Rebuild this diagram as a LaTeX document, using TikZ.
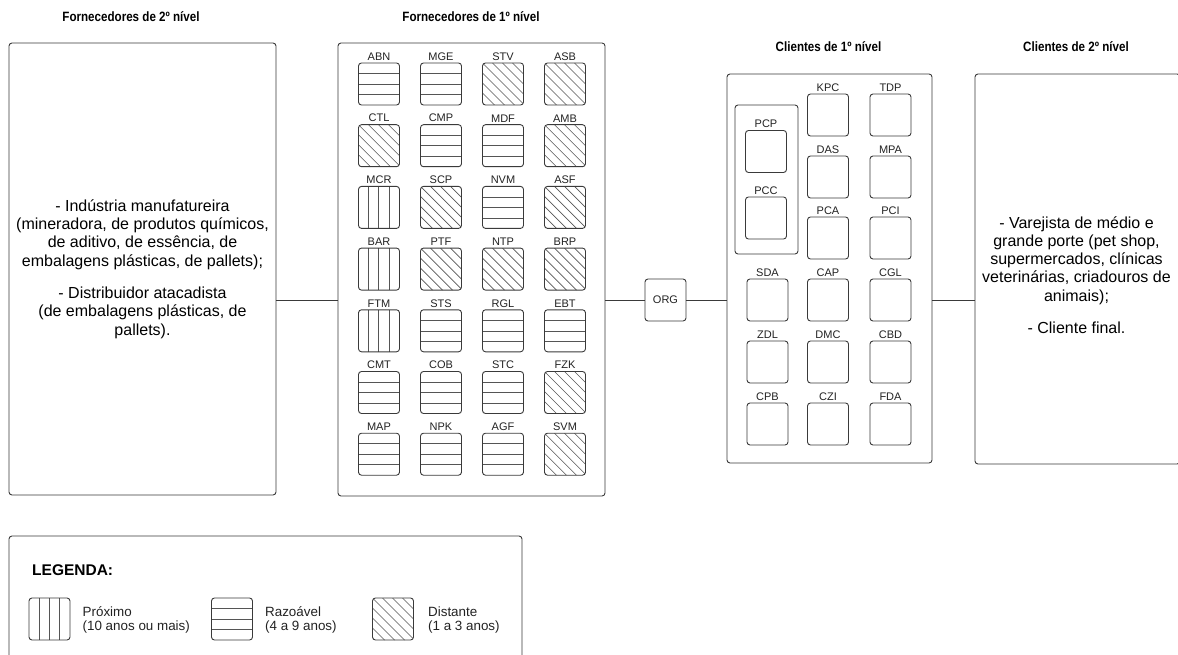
\documentclass[tikz,border=0pt]{standalone}
\usepackage{fontspec}
\setmainfont{Liberation Sans}
\usepackage{graphicx}
\usepackage{tikz}
\usetikzlibrary{positioning,calc}
\definecolor{linegray}{HTML}{3A3A3A}
\definecolor{hatchgray}{HTML}{555555}
\definecolor{textgray}{HTML}{222222}
\newcommand{\bodyfont}{\fontsize{16}{18.3}\selectfont}
\newcommand{\headtext}[1]{\scalebox{0.86}[1]{#1}}
\tikzset{
  frame/.style={draw=linegray, line width=0.9pt, rounded corners=3pt, inner sep=0pt},
  relbox/.style={frame, minimum width=41pt, minimum height=42pt},
  hatch/.style={draw=hatchgray, line width=0.6pt, sharp corners},
  prox/.style={relbox, path picture={
    \foreach \f in {0.24,0.49,0.75}
      \draw[hatch] ($(path picture bounding box.north west)!\f!(path picture bounding box.north east)$)
        -- ($(path picture bounding box.south west)!\f!(path picture bounding box.south east)$);}},
  razo/.style={relbox, path picture={
    \foreach \f in {0.25,0.5,0.75}
      \draw[hatch] ($(path picture bounding box.north west)!\f!(path picture bounding box.south west)$)
        -- ($(path picture bounding box.north east)!\f!(path picture bounding box.south east)$);}},
  dist/.style={relbox, path picture={
    \foreach \k in {-4,...,4}
      \draw[hatch] ($(path picture bounding box.north west)+(\k*10,0)$) -- ++(60,60);}},
  plain/.style={relbox},
  tag/.style={font=\fontsize{11}{12}\selectfont, text=textgray, inner sep=1pt},
  head/.style={font=\bfseries\fontsize{13.5}{15}\selectfont},
  link/.style={draw=linegray, line width=0.9pt},
  legtxt/.style={align=left, inner sep=0pt, text=textgray, font=\fontsize{13.4}{14.7}\selectfont, yshift=-1pt},
}

\begin{document}
\begin{tikzpicture}[x=1pt, y=-1pt]
  \useasboundingbox (0,0) rectangle (1178,655);

  \node[head] (h-sup2) at (131,17) {\headtext{Fornecedores de 2º nível}};
  \node[head] (h-sup1) at (471,17) {\headtext{Fornecedores de 1º nível}};
  \node[head] (h-cli1) at (828.5,47) {\headtext{Clientes de 1º nível}};
  \node[head] (h-cli2) at (1076,47) {\headtext{Clientes de 2º nível}};

  \node[frame, minimum width=267pt, minimum height=452pt, align=center, font=\bodyfont] (sup2) at (142.5,269)
    {- Indústria manufatureira\\(mineradora, de produtos químicos,\\de aditivo, de essência, de\\embalagens plásticas, de pallets);\\[14pt]- Distribuidor atacadista\\(de embalagens plásticas, de\\pallets).};
  \node[frame, minimum width=267pt, minimum height=453pt] (sup1) at (471.5,269.5) {};
  \node[frame, minimum width=205pt, minimum height=389pt] (cli1) at (829.5,268.5) {};
  \node[frame, minimum width=205pt, minimum height=390pt] (cli2) at (1077.5,269) {};
  \node[align=center, font=\bodyfont, inner sep=0pt] (cli2-txt) at ($(cli2.center)+(-1,6)$)
    {- Varejista de médio e\\grande porte (pet shop,\\supermercados, clínicas\\veterinárias, criadouros de\\animais);\\[14pt]- Cliente final.};
  \node[relbox, font=\fontsize{11}{12}\selectfont, text=textgray] (ORG) at (665.5,300) {ORG};

  \foreach \lab/\kind [count=\i from 0] in {ABN/razo, MGE/razo, STV/dist, ASB/dist,
      CTL/dist, CMP/razo, MDF/razo, AMB/dist, MCR/prox, SCP/dist, NVM/razo, ASF/dist,
      BAR/prox, PTF/dist, NTP/dist, BRP/dist, FTM/prox, STS/razo, RGL/razo, EBT/razo,
      CMT/razo, COB/razo, STC/razo, FZK/dist, MAP/razo, NPK/razo, AGF/razo, SVM/dist}{
    \pgfmathtruncatemacro\col{mod(\i,4)}
    \pgfmathtruncatemacro\row{div(\i,4)}
    \node[\kind] (\lab) at (379+62*\col, 84+61.7*\row) {};
    \node[tag, above=1pt of \lab] (\lab-lbl) {\lab};
  }

  \node[frame, minimum width=63pt, minimum height=149pt] (grp) at (766.5,179.5) {};
  \node[plain] (PCP) at (766,151.5) {};
  \node[tag, above=1pt of PCP] (PCP-lbl) {PCP};
  \node[plain] (PCC) at (766,218) {};
  \node[tag, above=1pt of PCC] (PCC-lbl) {PCC};

  \foreach \lab/\cx/\cy in {KPC/828/115, TDP/890.5/115, DAS/828/177, MPA/890.5/177,
      PCA/828/238, PCI/890.5/238, SDA/767.5/300, CAP/828/300, CGL/890.5/300,
      ZDL/767.5/362, DMC/828/362, CBD/890.5/362, CPB/767.5/424, CZI/828/424, FDA/890.5/424}{
    \node[plain] (\lab) at (\cx,\cy) {};
    \node[tag, above=1pt of \lab] (\lab-lbl) {\lab};
  }

  \draw[link] (sup2.east |- ORG) -- (sup1.west |- ORG);
  \draw[link] (sup1.east |- ORG) -- (ORG);
  \draw[link] (ORG) -- (cli1.west |- ORG);
  \draw[link] (cli1.east |- ORG) -- (cli2.west |- ORG);

  \node[frame, minimum width=513pt, minimum height=124pt] (leg) at (265.5,598) {};
  \node[anchor=west, font=\bfseries\fontsize{15.5}{17}\selectfont, inner sep=0pt] (leg-title) at (32,570) {LEGENDA:};
  \node[prox] (leg-prox) at (49.5,619) {};
  \node[razo] (leg-razo) at (232,619) {};
  \node[dist] (leg-dist) at (393,619) {};
  \node[legtxt, right=12pt of leg-prox] (leg-prox-txt) {Próximo\\(10 anos ou mais)};
  \node[legtxt, right=12pt of leg-razo] (leg-razo-txt) {Razoável\\(4 a 9 anos)};
  \node[legtxt, right=14pt of leg-dist] (leg-dist-txt) {Distante\\(1 a 3 anos)};
\end{tikzpicture}
\end{document}
